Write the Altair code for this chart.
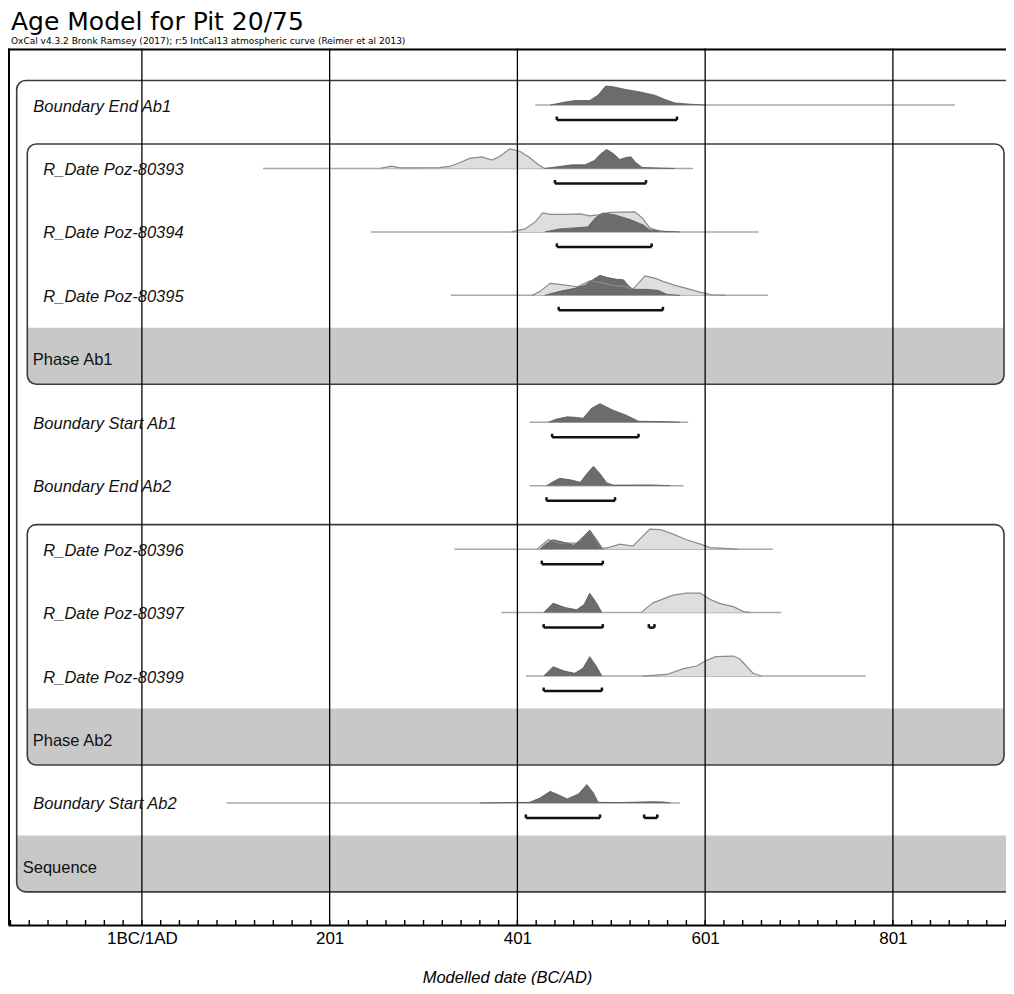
import altair as alt
import pandas as pd

TITLE = "Age Model for Pit 20/75"
SUBTITLE = "OxCal v4.3.2 Bronk Ramsey (2017); r:5 IntCal13 atmospheric curve (Reimer et al 2013)"
X_TITLE = "Modelled date (BC/AD)"

row_labels = ["Boundary End Ab1", "R_Date Poz-80393", "R_Date Poz-80394", "R_Date Poz-80395",
              "Phase Ab1", "Boundary Start Ab1", "Boundary End Ab2", "R_Date Poz-80396",
              "R_Date Poz-80397", "R_Date Poz-80399", "Phase Ab2", "Boundary Start Ab2", "Sequence"]
row_kinds = ["boundary", "date", "date", "date", "phase", "boundary", "boundary",
             "date", "date", "date", "phase", "boundary", "sequence"]

# groups: (name, first row, last row)
groups = [("Sequence", 0, 12), ("Phase Ab1", 1, 4), ("Phase Ab2", 7, 10)]

axis_years = [1, 201, 401, 601, 801]
axis_labels = ["1BC/1AD", "201", "401", "601", "801"]
minor_step = 20

# extent of the thin likelihood line (years)
ranges = {
    "Boundary End Ab1": (420, 867),
    "R_Date Poz-80393": (130, 588),
    "R_Date Poz-80394": (245, 658),
    "R_Date Poz-80395": (330, 668),
    "Boundary Start Ab1": (414, 583),
    "Boundary End Ab2": (414, 578),
    "R_Date Poz-80396": (334, 673),
    "R_Date Poz-80397": (384, 682),
    "R_Date Poz-80399": (410, 772),
    "Boundary Start Ab2": (91, 574),
}

# 95.4% ranges (years)
brackets = {
    "Boundary End Ab1": [(443, 571)],
    "R_Date Poz-80393": [(441, 538)],
    "R_Date Poz-80394": [(443, 544)],
    "R_Date Poz-80395": [(445, 556)],
    "Boundary Start Ab1": [(438, 530)],
    "Boundary End Ab2": [(432, 505)],
    "R_Date Poz-80396": [(427, 492)],
    "R_Date Poz-80397": [(429, 492), (541, 547)],
    "R_Date Poz-80399": [(429, 491)],
    "Boundary Start Ab2": [(410, 489), (536, 550)],
}

# unmodelled (calibrated) distributions - light grey
likelihood_years = {
    "R_Date Poz-80393": [255, 267, 276, 297, 318, 329, 340, 350, 363, 374, 382, 393, 404, 414, 423, 430],
    "R_Date Poz-80394": [395, 409, 420, 428, 436, 452, 468, 478, 487, 500, 526, 534, 542, 553, 564],
    "R_Date Poz-80395": [417, 425, 436, 446, 465, 478, 489, 502, 516, 524, 537, 548, 556, 569, 585, 596, 609, 622],
    "R_Date Poz-80396": [422, 434, 446, 464, 478, 491, 500, 510, 524, 542, 553, 567, 581, 596, 606, 635],
    "R_Date Poz-80397": [533, 539, 546, 567, 581, 596, 606, 617, 631, 642, 649],
    "R_Date Poz-80399": [535, 560, 578, 592, 601, 612, 631, 638, 652, 661],
}
likelihood_dens = {
    "R_Date Poz-80393": [0, 0.12, 0.03, 0.03, 0.04, 0.1, 0.3, 0.5, 0.58, 0.42, 0.6, 0.98, 0.85, 0.55, 0.2, 0],
    "R_Date Poz-80394": [0, 0.15, 0.5, 0.95, 0.88, 0.88, 0.9, 0.8, 0.85, 0.98, 1.0, 0.7, 0.2, 0.03, 0],
    "R_Date Poz-80395": [0, 0.2, 0.6, 0.55, 0.43, 0.72, 0.65, 0.5, 0.45, 0.3, 0.97, 0.85, 0.7, 0.5, 0.3, 0.15, 0.03, 0],
    "R_Date Poz-80396": [0, 0.47, 0.3, 0.3, 0.92, 0.03, 0.1, 0.25, 0.15, 1.0, 0.98, 0.75, 0.47, 0.25, 0.08, 0],
    "R_Date Poz-80397": [0, 0.25, 0.5, 0.87, 0.97, 0.97, 0.67, 0.45, 0.3, 0.05, 0],
    "R_Date Poz-80399": [0, 0.08, 0.37, 0.5, 0.75, 0.97, 1.0, 0.85, 0.14, 0],
}

# modelled (posterior) distributions - dark grey
posterior_years = {
    "Boundary End Ab1": [436, 452, 462, 478, 487, 495, 502, 516, 532, 548, 558, 569, 585, 601],
    "R_Date Poz-80393": [430, 446, 459, 473, 483, 489, 496, 503, 510, 517, 522, 527, 534, 553, 569],
    "R_Date Poz-80394": [430, 446, 462, 476, 484, 492, 505, 521, 535, 542, 558, 574],
    "R_Date Poz-80395": [430, 446, 462, 473, 482, 489, 496, 507, 514, 519, 524, 537, 551, 560, 574],
    "Boundary Start Ab1": [434, 442, 454, 462, 471, 480, 489, 503, 517, 530, 560, 574],
    "Boundary End Ab2": [432, 439, 446, 457, 468, 475, 482, 489, 496, 503, 542, 564],
    "R_Date Poz-80396": [425, 431, 439, 450, 461, 468, 478, 485, 492],
    "R_Date Poz-80397": [429, 439, 452, 464, 472, 478, 485, 491],
    "R_Date Poz-80399": [429, 439, 451, 462, 471, 478, 485, 491],
    "Boundary Start Ab2": [361, 414, 425, 436, 445, 454, 466, 475, 482, 487, 510, 535, 546, 556, 564],
}
posterior_dens = {
    "Boundary End Ab1": [0, 0.15, 0.22, 0.22, 0.5, 0.95, 0.92, 0.78, 0.65, 0.48, 0.28, 0.1, 0.04, 0],
    "R_Date Poz-80393": [0, 0.1, 0.18, 0.18, 0.4, 0.7, 0.95, 0.75, 0.45, 0.55, 0.58, 0.3, 0.05, 0.02, 0],
    "R_Date Poz-80394": [0, 0.15, 0.2, 0.25, 0.7, 0.95, 0.85, 0.62, 0.35, 0.1, 0.03, 0],
    "R_Date Poz-80395": [0, 0.2, 0.35, 0.5, 0.8, 1.0, 0.9, 0.8, 0.78, 0.5, 0.3, 0.3, 0.25, 0.05, 0],
    "Boundary Start Ab1": [0, 0.15, 0.27, 0.25, 0.2, 0.7, 0.93, 0.6, 0.35, 0.05, 0.03, 0],
    "Boundary End Ab2": [0, 0.2, 0.37, 0.3, 0.17, 0.6, 0.97, 0.6, 0.15, 0.03, 0.04, 0],
    "R_Date Poz-80396": [0, 0.25, 0.47, 0.35, 0.2, 0.4, 0.95, 0.5, 0],
    "R_Date Poz-80397": [0, 0.47, 0.25, 0.14, 0.4, 0.97, 0.5, 0],
    "R_Date Poz-80399": [0, 0.47, 0.25, 0.14, 0.4, 0.97, 0.5, 0],
    "Boundary Start Ab2": [0, 0.03, 0.25, 0.58, 0.4, 0.2, 0.45, 0.92, 0.5, 0.03, 0.02, 0.05, 0.06, 0.05, 0],
}

# ---------------- layout ----------------
W, H = 998, 876.5             # plot area (px)
PLOT_LEFT_ABS = 8.0
PX_PER_YEAR = 0.93875
YEAR1_ABS_PX = 141.9


def px2yr(px_abs):
    return 1 + (px_abs - YEAR1_ABS_PX) / PX_PER_YEAR


X_DOMAIN = [px2yr(PLOT_LEFT_ABS), px2yr(PLOT_LEFT_ABS + W)]
ROW0 = 56.5      # first baseline (px from plot top)
PITCH = 63.45    # row spacing
PEAK = 20        # px height of density 1.0
BRACKET_DY = 15
SERIF = 3.5


def base_y(i):
    return ROW0 + PITCH * i


xscale = alt.Scale(domain=X_DOMAIN, nice=False, zero=False)
yscale = alt.Scale(domain=[0, H], reverse=True, nice=False, zero=False)

parts = [f"datum.value == {v} ? '{l}'" for v, l in zip(axis_years, axis_labels)]
label_expr = " : ".join(parts) + " : datum.label"

SANS = "Liberation Sans, Arial"
xaxis = alt.Axis(values=axis_years, labelExpr=label_expr, ticks=False, grid=False,
                 domain=True, domainColor="black", domainWidth=2,
                 labelFont=SANS, labelFontSize=17, labelColor="black",
                 labelPadding=5, labelFlush=False, labelOverlap=False,
                 title=X_TITLE, titleFont=SANS, titleFontSize=16.5,
                 titleFontStyle="italic", titleFontWeight="normal", titleColor="black",
                 titleY=57, titleBaseline="alphabetic")


def X(field):
    return alt.X(f"{field}:Q", scale=xscale, axis=xaxis)


def Y(field):
    return alt.Y(f"{field}:Q", scale=yscale, axis=None)


# --- frames: boxes and grey bands
box_recs, band_recs = [], []
for name, r0, r1 in groups:
    if name == "Sequence":
        left, right = px2yr(16.7), px2yr(1030)
    else:
        left, right = px2yr(27.3), px2yr(1004)
    top = base_y(r0) - 24.5
    bottom = base_y(r1) + 25.5
    box_recs.append({"x": left, "x2": right, "y": top, "y2": bottom})
    band_recs.append({"x": left, "x2": right, "y": base_y(r1) - 31, "y2": bottom})
box_df = pd.DataFrame(box_recs)
band_df = pd.DataFrame(band_recs)

# --- range lines, brackets
range_df = pd.DataFrame([{"x": a, "x2": b, "y": base_y(row_labels.index(k))} for k, (a, b) in ranges.items()])
br_recs, serif_recs = [], []
for k, lst in brackets.items():
    yb = base_y(row_labels.index(k)) + BRACKET_DY
    for a, b in lst:
        br_recs.append({"x": a, "x2": b, "y": yb})
        serif_recs.append({"x": a, "y": yb, "y2": yb - SERIF})
        serif_recs.append({"x": b, "y": yb, "y2": yb - SERIF})
br_df = pd.DataFrame(br_recs)
serif_df = pd.DataFrame(serif_recs)


# --- distributions
def dist_df(years_d, dens_d):
    recs = []
    for k in years_d:
        i = row_labels.index(k)
        for yr, d in zip(years_d[k], dens_d[k]):
            recs.append({"key": k, "x": yr, "y": base_y(i) - PEAK * d, "y2": base_y(i)})
    return pd.DataFrame(recs)


like_df = dist_df(likelihood_years, likelihood_dens)
post_df = dist_df(posterior_years, posterior_dens)

# --- grid and ticks
grid_df = pd.DataFrame({"x": axis_years, "y": [0] * len(axis_years), "y2": [H] * len(axis_years)})
minor = [v for v in range(-139, 930, minor_step) if X_DOMAIN[0] < v < X_DOMAIN[1]]
tick_df = pd.DataFrame({"x": minor, "y": [H] * len(minor), "y2": [H - 5] * len(minor)})
frame_top = pd.DataFrame({"x": [X_DOMAIN[0]], "x2": [X_DOMAIN[1]], "y": [1]})
frame_left = pd.DataFrame({"x": [px2yr(PLOT_LEFT_ABS + 1)], "y": [0], "y2": [H]})

# --- labels
lab_recs = []
indent = {"boundary": 33.3, "date": 43.3, "phase": 32.7, "sequence": 22.7}
for i, (lab, kind) in enumerate(zip(row_labels, row_kinds)):
    lab_recs.append({"label": lab, "kind": kind, "x": px2yr(indent[kind]), "y": base_y(i) + 1.5})
lab_df = pd.DataFrame(lab_recs)
ital_df = lab_df[lab_df.kind.isin(["boundary", "date"])]
norm_df = lab_df[lab_df.kind.isin(["phase", "sequence"])]

layers = [
    alt.Chart(band_df).mark_rect(color="#c8c8c8", cornerRadiusBottomLeft=9, cornerRadiusBottomRight=9)
    .encode(x=X("x"), x2="x2", y=Y("y"), y2="y2"),
    alt.Chart(box_df).mark_rect(fill=None, fillOpacity=0, stroke="#3c3c3c", strokeWidth=1.6, cornerRadius=9)
    .encode(x=X("x"), x2="x2", y=Y("y"), y2="y2"),
    alt.Chart(range_df).mark_rule(color="#a8a8a8", strokeWidth=1.5)
    .encode(x=X("x"), x2="x2", y=Y("y")),
    alt.Chart(like_df).mark_area(color="#dedede", opacity=1)
    .encode(x=X("x"), y=Y("y"), y2="y2", detail="key:N"),
    alt.Chart(post_df).mark_area(color="#6c6c6c", opacity=1)
    .encode(x=X("x"), y=Y("y"), y2="y2", detail="key:N"),
    alt.Chart(like_df).mark_line(color="#8a8a8a", strokeWidth=1.2)
    .encode(x=X("x"), y=Y("y"), detail="key:N"),
    alt.Chart(post_df).mark_line(color="#555555", strokeWidth=0.8)
    .encode(x=X("x"), y=Y("y"), detail="key:N"),
    alt.Chart(grid_df).mark_rule(color="black", strokeWidth=1.3)
    .encode(x=X("x"), y=Y("y"), y2="y2"),
    alt.Chart(tick_df).mark_rule(color="black", strokeWidth=1.4)
    .encode(x=X("x"), y=Y("y"), y2="y2"),
    alt.Chart(frame_top).mark_rule(color="black", strokeWidth=2)
    .encode(x=X("x"), x2="x2", y=Y("y")),
    alt.Chart(frame_left).mark_rule(color="black", strokeWidth=2)
    .encode(x=X("x"), y=Y("y"), y2="y2"),
    alt.Chart(br_df).mark_rule(color="#111111", strokeWidth=2.5)
    .encode(x=X("x"), x2="x2", y=Y("y")),
    alt.Chart(serif_df).mark_rule(color="#111111", strokeWidth=2.5)
    .encode(x=X("x"), y=Y("y"), y2="y2"),
    alt.Chart(ital_df).mark_text(align="left", baseline="middle", font=SANS,
                                 fontSize=16.5, fontStyle="italic", color="#111111")
    .encode(x=X("x"), y=Y("y"), text="label:N"),
    alt.Chart(norm_df).mark_text(align="left", baseline="middle", font=SANS,
                                 fontSize=16.5, color="#111111")
    .encode(x=X("x"), y=Y("y"), text="label:N"),
]

chart = alt.layer(*layers).properties(
    width=W, height=H,
    title=alt.Title(TITLE, subtitle=SUBTITLE, anchor="start", frame="group",
                    font="DejaVu Sans", fontSize=25, fontWeight="normal", color="black",
                    subtitleFont="DejaVu Sans", subtitleFontSize=9, subtitleColor="black",
                    subtitlePadding=2, offset=2, dx=3),
    autosize=alt.AutoSizeParams(type="none"),
    padding={"left": 0, "top": 40.5, "right": 0, "bottom": 60},
).configure_view(stroke=None).configure(background="white")

chart.save("out.html", embed_options={"renderer": "svg", "actions": False})
